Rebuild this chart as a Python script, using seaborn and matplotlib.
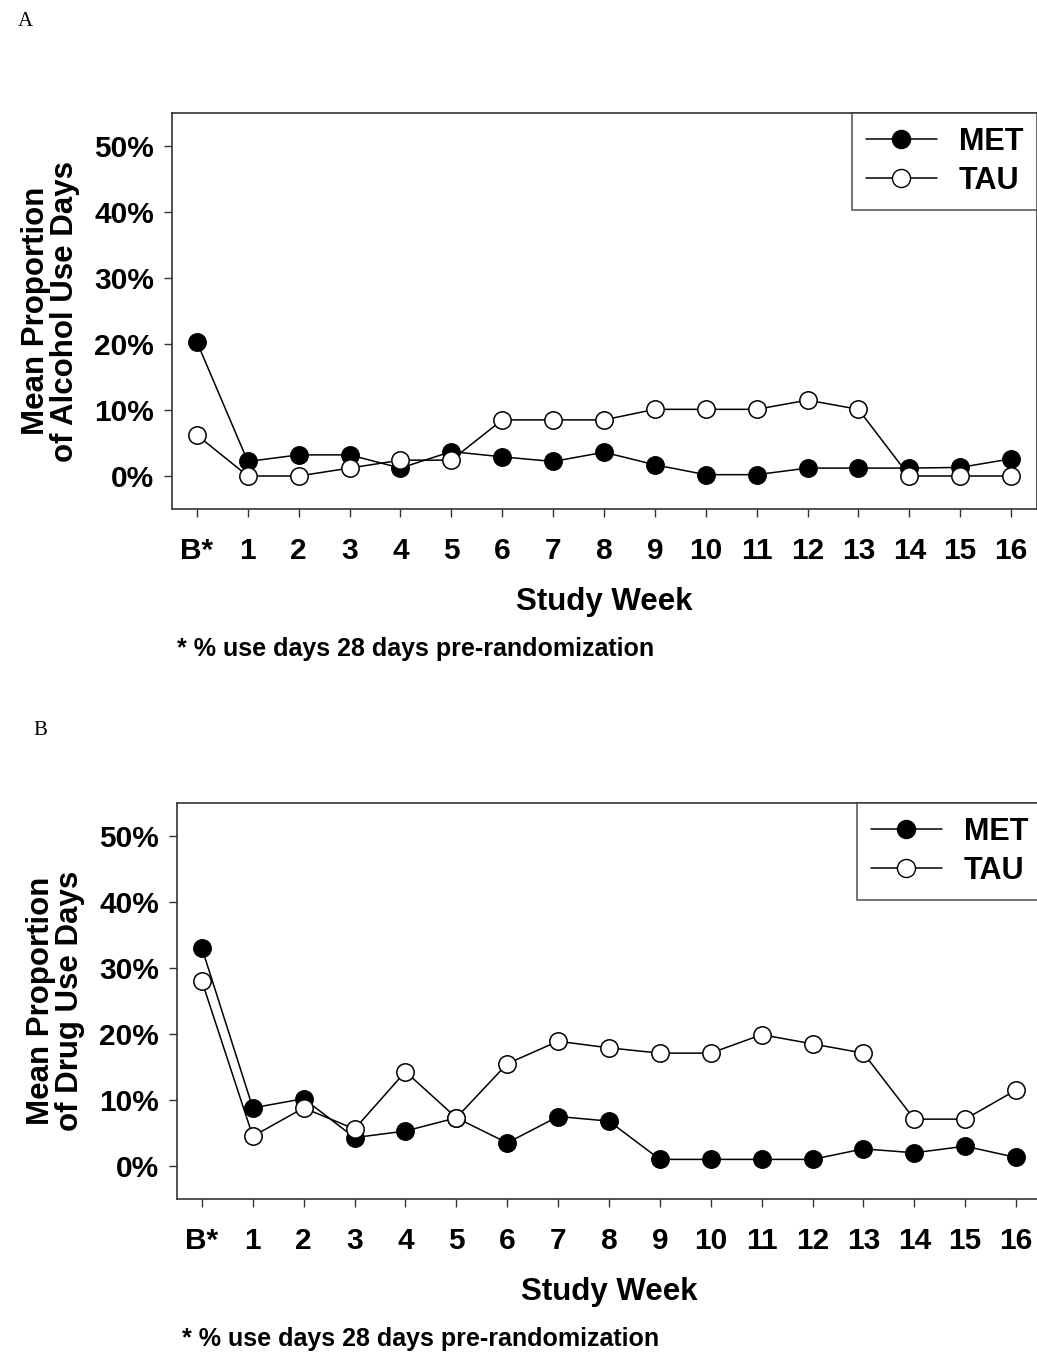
import numpy as np
import pandas as pd
import matplotlib
matplotlib.use("Agg")
import matplotlib.pyplot as plt
import seaborn as sns
from matplotlib.lines import Line2D
from matplotlib.ticker import FuncFormatter

# Eixo x: semanas do estudo
semanas = ["B*", "1", "2", "3", "4", "5", "6", "7", "8",
           "9", "10", "11", "12", "13", "14", "15", "16"]

# Painel A: alcool (% de dias de uso)
alcool_met = [20.3, 2.2, 3.2, 3.2, 1.2, 3.7, 2.9, 2.2, 3.6,
              1.7, 0.2, 0.2, 1.2, 1.2, 1.2, 1.3, 2.6]
alcool_tau = [6.2, 0.0, 0.0, 1.2, 2.4, 2.4, 8.5, 8.5, 8.5,
              10.1, 10.1, 10.1, 11.5, 10.1, 0.0, 0.0, 0.0]

# Painel B: drogas (% de dias de uso)
droga_met = [33.0, 8.8, 10.2, 4.3, 5.3, 7.3, 3.5, 7.5, 6.8,
             1.0, 1.0, 1.0, 1.0, 2.6, 2.0, 3.0, 1.3]
droga_tau = [28.0, 4.5, 8.8, 5.6, 14.3, 7.3, 15.5, 18.9, 17.9,
             17.1, 17.1, 19.9, 18.5, 17.1, 7.1, 7.1, 11.5]

grupos = ["MET", "TAU"]
nota = "* % use days 28 days pre-randomization"

sns.set_style("ticks")
plt.rcParams["font.family"] = ["Liberation Sans", "DejaVu Sans"]
plt.rcParams["font.weight"] = "bold"
plt.rcParams["text.color"] = "black"
plt.rcParams["axes.labelcolor"] = "black"
plt.rcParams["xtick.color"] = "black"
plt.rcParams["ytick.color"] = "black"

W, H = 1037, 1366
fig = plt.figure(figsize=(W / 100, H / 100), dpi=100)
fig.patch.set_facecolor("white")


def painel(left_px, top_px, bottom_px, met, tau, ylabel, letra, letra_xy):
    ax = fig.add_axes([left_px / W, 1 - bottom_px / H,
                       865 / W, (bottom_px - top_px) / H])
    df = pd.DataFrame({
        "pos": list(range(len(semanas))) * 2,
        "valor": met + tau,
        "grupo": [grupos[0]] * len(met) + [grupos[1]] * len(tau),
    })
    estilos = {"MET": "black", "TAU": "white"}
    for g in grupos:
        sns.lineplot(data=df[df["grupo"] == g], x="pos", y="valor", ax=ax,
                     color="black", lw=1.1, marker="o", markersize=12.5,
                     markerfacecolor=estilos[g], markeredgecolor="black",
                     markeredgewidth=1.1, legend=False, zorder=3)
    ax.set_xlim(-0.49, 16.51)
    ax.set_ylim(-5, 55)
    ax.set_xticks(range(len(semanas)))
    ax.set_xticklabels(semanas)
    ax.set_yticks([0, 10, 20, 30, 40, 50])
    ax.yaxis.set_major_formatter(FuncFormatter(lambda v, p: f"{v:.0f}%"))
    ax.tick_params(axis="both", labelsize=21.5, width=1, length=6,
                   color="#333333", labelcolor="black")
    ax.tick_params(axis="x", pad=14)
    ax.tick_params(axis="y", pad=7)
    for s in ax.spines.values():
        s.set_visible(True)
        s.set_linewidth(1.2)
        s.set_color("#333333")
    ax.set_xlabel("Study Week", fontsize=22.5, fontweight="bold", labelpad=16)
    ax.set_ylabel(ylabel, fontsize=22.5, fontweight="bold", labelpad=10,
                  linespacing=0.95)

    handles = [Line2D([], [], color="black", lw=1.1, marker="o", markersize=13,
                      markerfacecolor=estilos[g], markeredgecolor="black")
               for g in grupos]
    leg = ax.legend(handles, grupos, loc="upper right", bbox_to_anchor=(1, 1),
                    borderaxespad=0, fontsize=22, handlelength=2.35,
                    frameon=True, fancybox=False, edgecolor="#333333",
                    labelspacing=0.3, handletextpad=0.7, borderpad=0.45)
    leg.get_frame().set_linewidth(1.2)
    for t in leg.get_texts():
        t.set_fontweight("bold")

    fig.text(left_px / W + 0.005, 1 - (bottom_px + 140) / H, nota,
             fontsize=18, fontweight="bold", va="center", ha="left")
    fig.text(letra_xy[0] / W, 1 - letra_xy[1] / H, letra,
             family=["Liberation Serif", "DejaVu Serif"], fontweight="normal",
             fontsize=15, va="center", ha="left")
    return ax


painel(172, 113, 509, alcool_met, alcool_tau,
       "Mean Proportion\nof Alcohol Use Days", "A", (18, 21))
painel(177, 803, 1199, droga_met, droga_tau,
       "Mean Proportion\nof Drug Use Days", "B", (33, 730))

fig.savefig("out.png", dpi=100, facecolor="white")
